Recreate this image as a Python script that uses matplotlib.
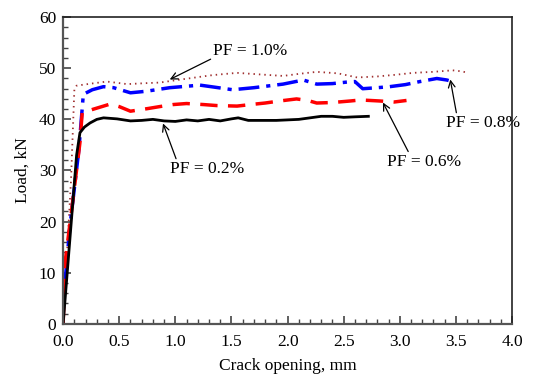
import matplotlib
matplotlib.use("Agg")
import matplotlib.pyplot as plt
from matplotlib.ticker import MultipleLocator, FormatStrFormatter

plt.rcParams['font.family'] = ['Liberation Serif', 'DejaVu Serif']

# PF = 0.2 %
x02 = [0.0, 0.04, 0.08, 0.12, 0.15, 0.19, 0.24, 0.30, 0.36, 0.48, 0.60, 0.70, 0.80, 0.90, 1.00, 1.10, 1.20,
       1.30, 1.40, 1.50, 1.56, 1.65, 1.75, 1.90, 2.00, 2.10, 2.20, 2.30, 2.40, 2.50, 2.60, 2.72]
y02 = [0.0, 11.0, 22.0, 33.0, 37.4, 38.5, 39.3, 40.0, 40.3, 40.1, 39.7, 39.8, 40.0, 39.7, 39.6, 39.9, 39.7,
       40.0, 39.7, 40.1, 40.3, 39.8, 39.8, 39.8, 39.9, 40.0, 40.3, 40.6, 40.6, 40.4, 40.5, 40.6]

# PF = 0.6 %
x06 = [0.0, 0.02, 0.08, 0.15, 0.17, 0.27, 0.42, 0.50, 0.60, 0.75, 0.86, 0.98, 1.10, 1.25, 1.37,
       1.55, 1.67, 1.80, 1.93, 2.08, 2.18, 2.26, 2.40, 2.56, 2.65, 2.82, 2.95, 3.06]
y06 = [0.0, 12.5, 23.0, 35.5, 41.3, 42.0, 43.0, 42.5, 41.6, 42.1, 42.5, 42.9, 43.1, 42.9, 42.7,
       42.6, 42.9, 43.2, 43.6, 44.0, 43.7, 43.2, 43.3, 43.6, 43.8, 43.6, 43.4, 43.7]

# PF = 0.8 %
x08 = [0.0, 0.003, 0.06, 0.14, 0.18, 0.26, 0.36, 0.45, 0.60, 0.74, 0.95, 1.22, 1.35, 1.51,
       1.70, 1.96, 2.05, 2.14, 2.26, 2.40, 2.53, 2.60, 2.67, 2.80, 2.91, 3.05, 3.18, 3.33, 3.42, 3.48]
y08 = [0.0, 4.7, 19.0, 34.0, 44.9, 45.8, 46.4, 46.2, 45.2, 45.5, 46.2, 46.7, 46.3, 45.8,
       46.2, 46.9, 47.3, 47.7, 46.9, 47.0, 47.3, 47.4, 46.0, 46.2, 46.4, 46.8, 47.4, 48.0, 47.7, 47.3]

# PF = 1.0 %
x10 = [0.0, 0.03, 0.07, 0.10, 0.12, 0.25, 0.39, 0.57, 0.75, 0.86, 1.05, 1.31, 1.40, 1.55,
       1.75, 1.96, 2.10, 2.26, 2.45, 2.62, 2.80, 2.95, 3.12, 3.30, 3.47, 3.55, 3.61]
y10 = [0.0, 12.0, 28.0, 45.8, 46.6, 47.0, 47.4, 46.9, 47.1, 47.2, 47.8, 48.6, 48.8, 49.1,
       48.8, 48.5, 48.9, 49.3, 49.0, 48.2, 48.4, 48.7, 49.1, 49.3, 49.6, 49.4, 49.1]

labels = ["PF = 0.2%", "PF = 0.6%", "PF = 0.8%", "PF = 1.0%"]

fig = plt.figure(figsize=(5.35, 3.81), dpi=100)
ax = fig.add_axes([0.118, 0.150, 0.839, 0.805])

kw = dict(solid_joinstyle='round', dash_joinstyle='round')
ax.plot(x10, y10, color='#a03030', lw=1.3, linestyle=(0, (0.8, 2.2)), **kw)
ax.plot(x08, y08, color='#0000ff', lw=2.5, linestyle=(0, (6, 2, 1.2, 2)), **kw)
ax.plot(x06, y06, color='#ff0000', lw=2.5, linestyle=(0, (5, 3)), **kw)
ax.plot(x02, y02, color='black', lw=2.0, **kw)

ax.set_xlim(0, 4.0)
ax.set_ylim(0, 60)
ax.xaxis.set_major_locator(MultipleLocator(0.5))
ax.xaxis.set_minor_locator(MultipleLocator(0.1))
ax.yaxis.set_major_locator(MultipleLocator(10))
ax.yaxis.set_minor_locator(MultipleLocator(2))
ax.xaxis.set_major_formatter(FormatStrFormatter('%.1f'))
ax.tick_params(which='both', direction='in', top=False, right=False, labelsize=12.5, colors='black')
ax.tick_params(which='major', length=6, width=1.2, color='#444444')
ax.tick_params(which='minor', length=3.5, width=1.0, color='#444444')
ax.tick_params(axis='x', pad=7)
ax.tick_params(axis='y', pad=5)
for s in ['left', 'bottom']:
    ax.spines[s].set_color('#555555')
    ax.spines[s].set_linewidth(1.6)
for s in ['top', 'right']:
    ax.spines[s].set_color('#222222')
    ax.spines[s].set_linewidth(1.2)

ax.set_xlabel("Crack opening, mm", fontsize=12.5, labelpad=6)
ax.set_ylabel("Load, kN", fontsize=12.5, labelpad=6)

arw = dict(arrowstyle='->', color='black', lw=0.9, mutation_scale=12)
ax.annotate(labels[3], xy=(0.95, 47.8), xytext=(1.67, 53.3), fontsize=12.5,
            ha='center', va='center', arrowprops=dict(arw, shrinkA=0, shrinkB=0, relpos=(0.0, 0.1)))
ax.annotate(labels[0], xy=(0.89, 39.2), xytext=(1.28, 30.2), fontsize=12.5,
            ha='center', va='center', arrowprops=dict(arw, shrinkA=0, shrinkB=0, relpos=(0.1, 1.0)))
ax.annotate(labels[1], xy=(2.85, 43.3), xytext=(3.22, 31.6), fontsize=12.5,
            ha='center', va='center', arrowprops=dict(arw, shrinkA=0, shrinkB=0, relpos=(0.3, 1.0)))
ax.annotate(labels[2], xy=(3.45, 47.8), xytext=(3.74, 39.2), fontsize=12.5,
            ha='center', va='center', arrowprops=dict(arw, shrinkA=0, shrinkB=0, relpos=(0.15, 1.0)))

fig.savefig("out.png", dpi=100)
